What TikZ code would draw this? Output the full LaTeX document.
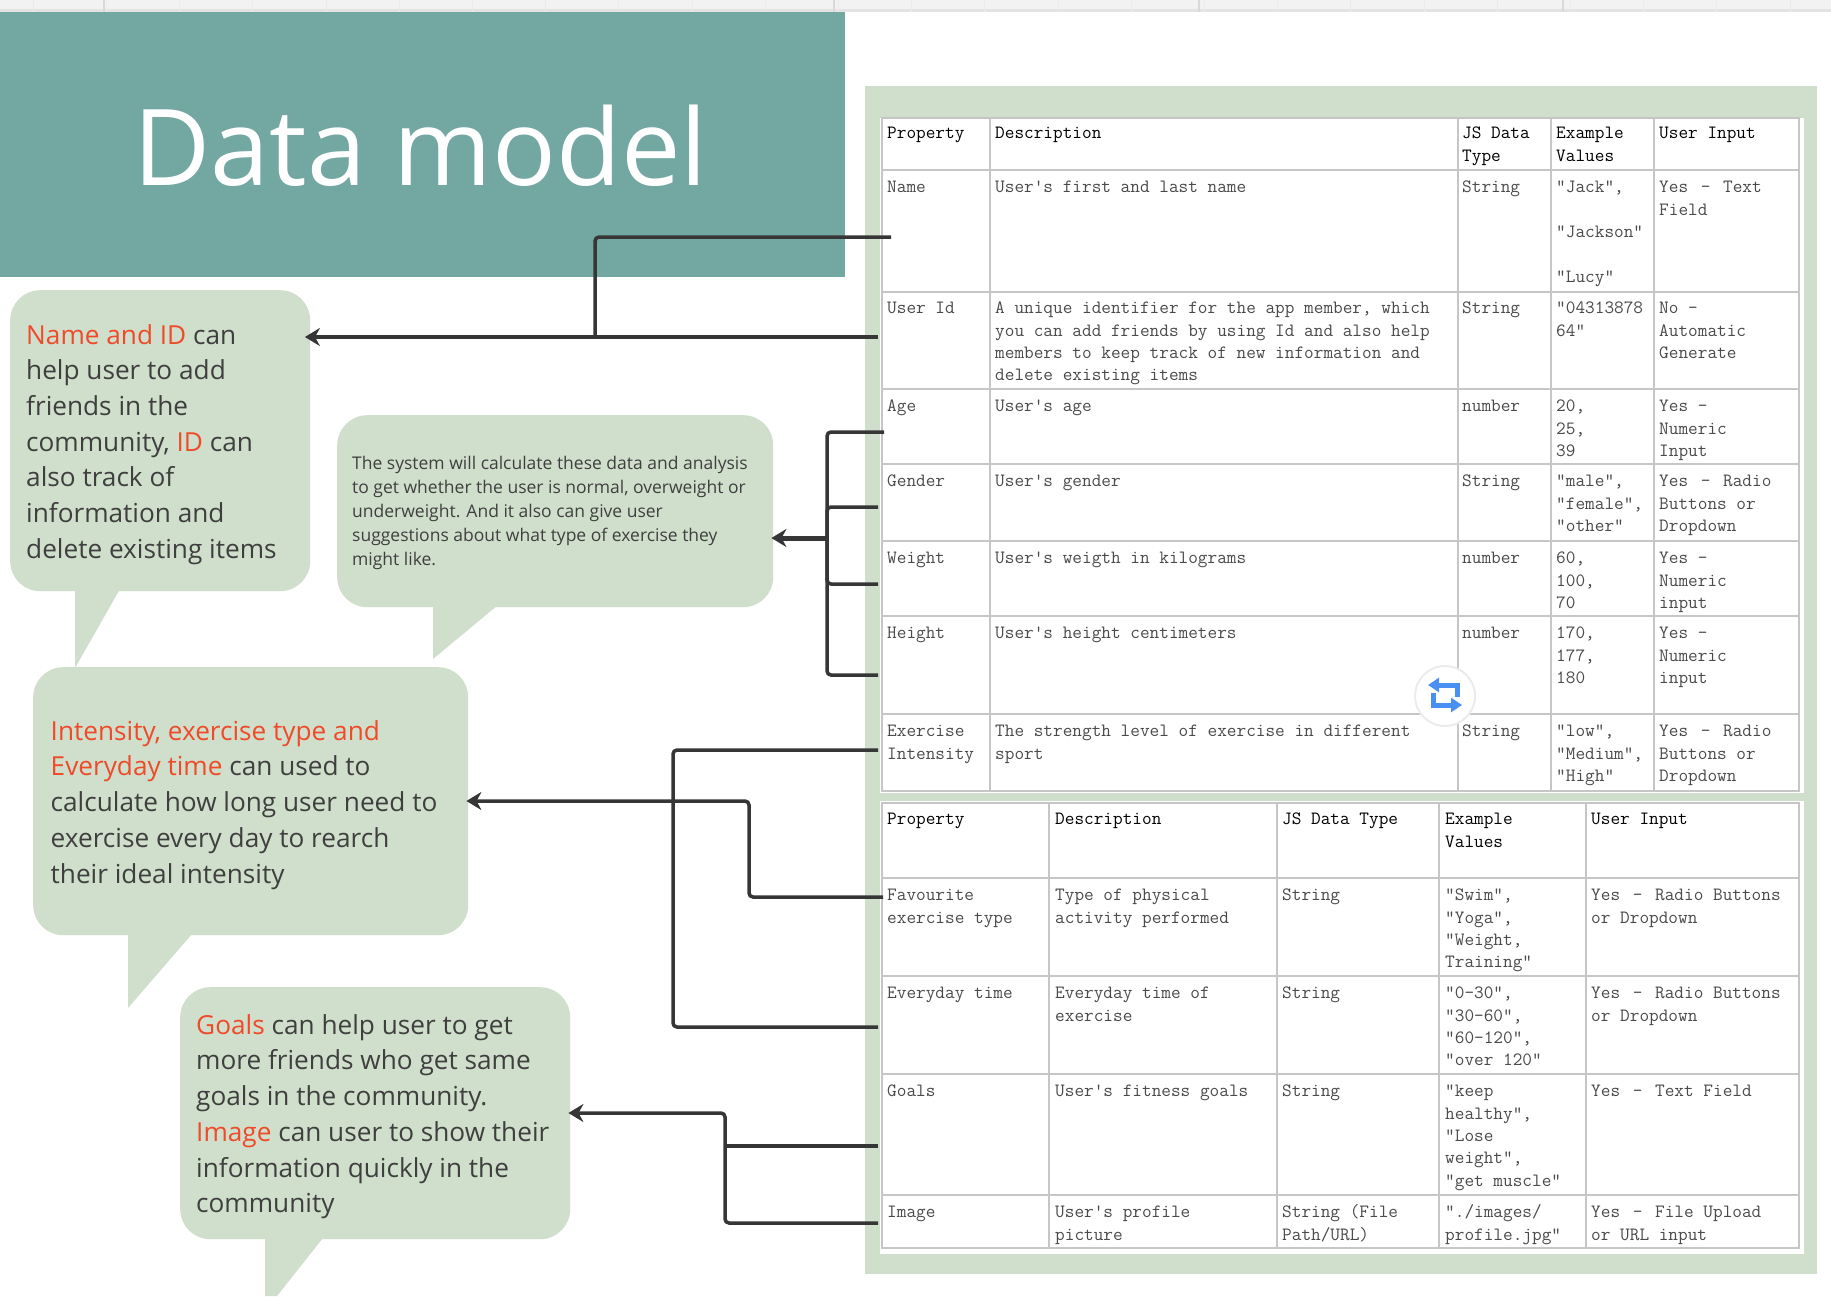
\documentclass[tikz,border=0pt]{standalone}
\usepackage{fontspec}
\setsansfont{Open Sans}
\setmonofont{Latin Modern Mono}
\usepackage{xcolor}
\usetikzlibrary{positioning,arrows.meta,calc}
\definecolor{panelgreen}{HTML}{D0DFCB}
\definecolor{titleteal}{HTML}{72A7A2}
\definecolor{noteink}{HTML}{3F3F3F}
\definecolor{hotred}{HTML}{EF4A2A}
\definecolor{tableink}{HTML}{4A4A4A}
\definecolor{gridgray}{HTML}{C6C6C6}
\definecolor{linkink}{HTML}{363636}
\definecolor{swapblue}{HTML}{4A90F2}
\newcommand{\hot}[1]{\textcolor{hotred}{#1}}
\newcommand{\gapdash}{\hspace{3pt} - \hspace{3pt}}
% one table row: name, top edge, five cells
\newcommand{\rowone}[7]{
  \node[cell] (#1prop) at (887,#2+5) {\strut #3};
  \node[cell] (#1desc) at (995,#2+5) {\strut #4};
  \node[cell] (#1type) at (1462,#2+5) {\strut #5};
  \node[cell] (#1vals) at (1556,#2+5) {\strut #6};
  \node[cell] (#1input) at (1659,#2+5) {\strut #7};
}
\newcommand{\rowtwo}[7]{
  \node[cell] (#1prop) at (887,#2+5) {\strut #3};
  \node[cell] (#1desc) at (1055,#2+5) {\strut #4};
  \node[cell] (#1type) at (1282,#2+5) {\strut #5};
  \node[cell] (#1vals) at (1445,#2+5) {\strut #6};
  \node[cell] (#1input) at (1591,#2+5) {\strut #7};
}

\begin{document}
\begin{tikzpicture}[
  x=1pt, y=-1pt,
  cell/.style={anchor=north west, inner sep=0pt, align=left, text=tableink,
    font=\fontsize{18.75}{22.3}\selectfont\ttfamily},
  bubble/.style={fill=panelgreen, rounded corners=30pt, inner sep=0pt},
  notetext/.style={anchor=north west, inner sep=0pt, align=left, text=noteink,
    font=\fontsize{26.2}{35.7}\selectfont\sffamily},
  link/.style={draw=linkink, line width=3.5pt, rounded corners=4pt},
  arrow/.style={link, -{Stealth[length=15pt,width=18pt]}, shorten >=-2pt},
  grid/.style={draw=gridgray, line width=1.4pt}
]
\useasboundingbox (0,0) rectangle (1831,1296);
\fill[white] (0,0) rectangle (1831,1296);

% sheet strip on top
\fill[gray!10] (0,0) rectangle (1831,9);
\fill[gray!22] (0,9) rectangle (1831,12);
\foreach \xx in {0,...,24}
  \draw[gray!16] (33+73.2*\xx,0) -- (33+73.2*\xx,12);
\foreach \xx in {104,834,1199,1563}
  \draw[gray!30, line width=1.5pt] (\xx,0) -- (\xx,12);

\node[fill=titleteal, minimum width=845pt, minimum height=265pt, inner sep=0pt, anchor=north west] (title) at (0,12) {};
\node[text=white, font=\fontsize{106}{110}\selectfont\sffamily, inner sep=0pt, anchor=base] (titletext) at (420.5,185) {Data model};

% tables
\fill[panelgreen] (865,86) rectangle (1817,1274);
\fill[white] (880,118) rectangle (1804,793);
\fill[white] (880,801) rectangle (1804,1254);

\draw[grid] (882,118) rectangle (1799,791);
\foreach \yy in {170,292,389,464,541,616,714}
  \draw[grid] (882,\yy) -- (1799,\yy);
\foreach \xx in {990,1458,1551,1654}
  \draw[grid] (\xx,118) -- (\xx,791);

\draw[grid] (882,803) rectangle (1799,1248);
\foreach \yy in {878,976,1074,1195}
  \draw[grid] (882,\yy) -- (1799,\yy);
\foreach \xx in {1049,1277,1439,1586}
  \draw[grid] (\xx,803) -- (\xx,1248);

\begin{scope}[cell/.append style={text=black, font=\fontsize{18.75}{22.3}\selectfont\ttfamily\bfseries}]
\rowone{headone}{118}{Property}{Description}{JS Data\\Type}{Example\\Values}{User Input}
\rowtwo{headtwo}{804}{Property}{Description}{JS Data Type}{Example\\Values}{User Input}
\end{scope}
\rowone{name}{172}{Name}{User's first and last name}{String}{"Jack",\\[22.3pt]"Jackson"\\[22.3pt]"Lucy"}{Yes\gapdash Text\\Field}
\rowone{userid}{293}{User Id}{A unique identifier for the app member, which\\you can add friends by using Id and also help\\members to keep track of new information and\\delete existing items}{String}{"04313878\\64"}{No -\\Automatic\\Generate}
\rowone{age}{391}{Age}{User's age}{number}{20,\\25,\\39}{Yes -\\Numeric\\Input}
\rowone{gender}{466}{Gender}{User's gender}{String}{"male",\\"female",\\"other"}{Yes\gapdash Radio\\Buttons or\\Dropdown}
\rowone{weight}{543}{Weight}{User's weigth in kilograms}{number}{60,\\100,\\70}{Yes -\\Numeric\\input}
\rowone{height}{618}{Height}{User's height centimeters}{number}{170,\\177,\\180}{Yes -\\Numeric\\input}
\rowone{intensity}{716}{Exercise\\Intensity}{The strength level of exercise in different\\sport}{String}{"low",\\"Medium",\\"High"}{Yes\gapdash Radio\\Buttons or\\Dropdown}

\rowtwo{favourite}{880}{Favourite\\exercise type}{Type of physical\\activity performed}{String}{"Swim",\\"Yoga",\\"Weight,\\Training"}{Yes\gapdash Radio Buttons\\or Dropdown}
\rowtwo{everyday}{978}{Everyday time}{Everyday time of\\exercise}{String}{"0-30",\\"30-60",\\"60-120",\\"over 120"}{Yes\gapdash Radio Buttons\\or Dropdown}
\rowtwo{goals}{1076}{Goals}{User's fitness goals}{String}{"keep\\healthy",\\"Lose\\weight",\\"get muscle"}{Yes\gapdash Text Field}
\rowtwo{image}{1197}{Image}{User's profile\\picture}{String (File\\Path/URL)}{"./images/\\profile.jpg"}{Yes\gapdash File Upload\\or URL input}

% swap badge over the first table
\node[circle, fill=white, draw=gray!15, line width=2pt, minimum size=60pt, inner sep=0pt] (swapbadge) at (1445,696) {};
\draw[swapblue, line width=5pt, -{Triangle[length=11pt,width=14pt]}] ([shift={(12.5,1)}]swapbadge.center) |- ([shift={(-17,-11)}]swapbadge.center);
\draw[swapblue, line width=5pt, -{Triangle[length=11pt,width=14pt]}] ([shift={(-11.5,-3)}]swapbadge.center) |- ([shift={(17,9)}]swapbadge.center);

% callouts
\node[bubble, anchor=north west, minimum width=300pt, minimum height=301pt] (bubbleid) at (10,290) {};
\fill[panelgreen] (75,589) -- (120,589) -- (75,668) -- cycle;
\node[notetext] (noteid) at (26,319) {\strut\hot{Name and ID} can\\help user to add\\friends in the\\community, \hot{ID} can\\also track of\\information and\\delete existing items};

\node[bubble, anchor=north west, minimum width=436pt, minimum height=192pt] (bubblebody) at (337,415) {};
\fill[panelgreen] (433,605) -- (498,605) -- (433,659) -- cycle;
\node[notetext, font=\fontsize{17.5}{24}\selectfont\sffamily] (notebody) at (352,452) {\strut The system will calculate these data and analysis\\to get whether the user is normal, overweight or\\underweight. And it also can give user\\suggestions about what type of exercise they\\might like.};

\node[bubble, anchor=north west, minimum width=435pt, minimum height=268pt] (bubbletime) at (33,667) {};
\fill[panelgreen] (128,934) -- (192,934) -- (128,1008) -- cycle;
\node[notetext] (notetime) at (50.5,715) {\strut\hot{Intensity, exercise type and}\\\hot{Everyday time} can used to\\calculate how long user need to\\exercise every day to rearch\\their ideal intensity};

\node[bubble, anchor=north west, minimum width=390pt, minimum height=252pt] (bubblegoals) at (180,987) {};
\fill[panelgreen] (265,1238) -- (323,1238) -- (277,1296) -- (265,1296) -- cycle;
\node[notetext] (notegoals) at (196,1009) {\strut\hot{Goals} can help user to get\\more friends who get same\\goals in the community.\\\hot{Image} can user to show their\\information quickly in the\\community};

% pins on the table rows
\coordinate (namepin) at (891,237);
\coordinate (useridpin) at (878,337);
\coordinate (agepin) at (884,432);
\coordinate (genderpin) at (878,507);
\coordinate (weightpin) at (878,584);
\coordinate (heightpin) at (878,675);
\coordinate (intensitypin) at (878,750);
\coordinate (favouritepin) at (883,897);
\coordinate (everydaypin) at (878,1027);
\coordinate (goalspin) at (878,1146);
\coordinate (imagepin) at (878,1223);
\coordinate (idhub) at (595,337);
\coordinate (bodyhub) at (827,538);
\coordinate (timehub) at (673,801);
\coordinate (favbend) at (749,801);
\coordinate (goalsbend) at (725,1113);

\draw[arrow, shorten >=-5.5pt] (useridpin) -- (bubbleid.east |- useridpin);
\draw[link] (namepin) -| (idhub);

\draw[link] (agepin) -| (bodyhub) |- (heightpin);
\draw[link] (genderpin) -| (bodyhub);
\draw[link] (weightpin) -| (bodyhub);
\draw[arrow, line width=5pt] (bodyhub) -- (bubblebody.east |- bodyhub);

\draw[link] (intensitypin) -| (timehub) |- (everydaypin);
\draw[arrow] (favouritepin) -| (favbend) -- (bubbletime.east |- favbend);

\draw[arrow] (imagepin) -| (goalsbend) -- (bubblegoals.east |- goalsbend);
\draw[link] (goalspin) -- (goalspin -| goalsbend);
\end{tikzpicture}
\end{document}
